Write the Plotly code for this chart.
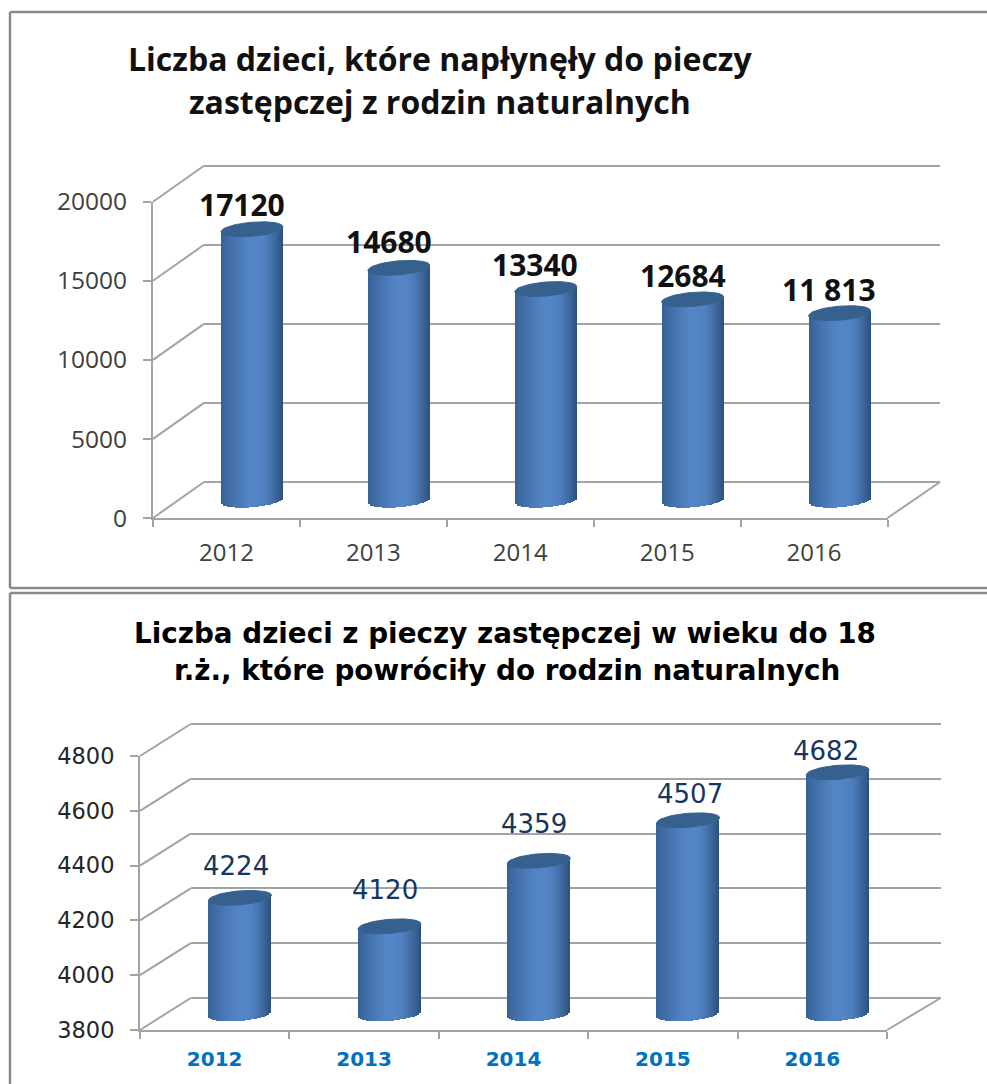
import math
import plotly.graph_objects as go

# ---------- data ----------
YEARS = ["2012", "2013", "2014", "2015", "2016"]
TOP_VALUES = [17120, 14680, 13340, 12684, 11813]
TOP_LABELS = ["17120", "14680", "13340", "12684", "11 813"]
TOP_TICKS = [0, 5000, 10000, 15000, 20000]
BOTTOM_VALUES = [4224, 4120, 4359, 4507, 4682]
BOTTOM_LABELS = ["4224", "4120", "4359", "4507", "4682"]
BOTTOM_TICKS = [3800, 4000, 4200, 4400, 4600, 4800]
TOP_TITLE = ["Liczba dzieci, które napłynęły do pieczy", "zastępczej z rodzin naturalnych"]
BOTTOM_TITLE = ["Liczba dzieci z pieczy zastępczej w wieku do 18",
                "r.ż., które powróciły do rodzin naturalnych"]

# ---------- layout constants (pixels) ----------
W, H = 987, 1084
GRID = "#a3a3a3"
FRAME = "#8a8a8a"


def px(x):
    return x / W


def py(y):
    return 1 - y / H


def mix(a, b, f):
    return tuple(a[i] + (b[i] - a[i]) * f for i in range(3))


def shade(t):
    """cylinder shading across the width, t in -1..1"""
    left, mid, right = (54, 96, 148), (83, 133, 198), (44, 80, 124)
    if t < -0.1:
        c = mix(left, mid, ((t + 1) / 0.9) ** 0.8)
    elif t < 0.25:
        c = mid
    else:
        c = mix(mid, right, ((t - 0.25) / 0.75) ** 1.5)
    return "rgb(%d,%d,%d)" % c


fig = go.Figure()
layout = dict(
    width=W, height=H, autosize=False, margin=dict(l=0, r=0, t=0, b=0),
    paper_bgcolor="white", plot_bgcolor="rgba(0,0,0,0)", showlegend=False,
    barmode="overlay", bargap=0,
)
shapes, annotations = [], []


def panel(first, values, labels, ticks, left, right, y_low, y_high, depth_x, depth_y,
          wall_right, bar_w, tick_font, year_font, year_standoff, label_font, label_shift, tick_standoff):
    n = len(values)
    ids = [str(first + k) if first + k > 1 else "" for k in range(3)]
    lo, hi = ticks[0], ticks[-1]
    ppu = (y_low - y_high) / (hi - lo)

    def ax(i, kind):
        return kind + ids[i]

    def key(i, kind):
        return kind + "axis" + ids[i]

    # front axes: labels, ticks and floor edge
    layout[key(0, "x")] = dict(
        domain=[px(left), px(right)], range=[-0.5, n - 0.5], anchor=ax(0, "y"), automargin=False,
        tickmode="array", tickvals=list(range(n)), ticktext=YEARS, ticks="",
        tickfont=year_font, showgrid=False, zeroline=False, showline=True,
        linecolor=GRID, linewidth=2, ticklabelstandoff=year_standoff,
        minor=dict(tickmode="array", tickvals=[i - 0.5 for i in range(n + 1)], ticks="outside",
                   ticklen=7, tickwidth=2, tickcolor=GRID, showgrid=False),
    )
    layout[key(0, "y")] = dict(
        domain=[py(y_low), py(y_high)], range=[lo, hi], anchor=ax(0, "x"), automargin=False,
        tickmode="array", tickvals=ticks, ticktext=[str(t) for t in ticks],
        ticks="outside", ticklen=8, tickwidth=2, tickcolor=GRID, tickfont=tick_font,
        showgrid=False, zeroline=False, showline=True, linecolor=GRID, linewidth=2,
        ticklabelstandoff=tick_standoff,
    )
    fig.add_trace(go.Scatter(x=[0], y=[lo], mode="markers", marker=dict(size=1, opacity=0),
                             xaxis=ax(0, "x"), yaxis=ax(0, "y"), hoverinfo="skip"))
    # back wall: native gridlines shifted in depth (small padding keeps end lines visible)
    wp = 3
    layout[key(1, "x")] = dict(
        domain=[px(left + depth_x), px(wall_right)], range=[0, 1], anchor=ax(1, "y"),
        visible=False, showgrid=False, zeroline=False, automargin=False,
    )
    layout[key(1, "y")] = dict(
        domain=[py(y_low - depth_y + wp), py(y_high - depth_y - wp)],
        range=[lo - wp / ppu, hi + wp / ppu], anchor=ax(1, "x"), automargin=False,
        tickmode="array", tickvals=ticks, showticklabels=False, ticks="",
        showgrid=True, gridcolor=GRID, gridwidth=2, zeroline=False, showline=False,
    )
    fig.add_trace(go.Scatter(x=[0], y=[lo], mode="markers", marker=dict(size=1, opacity=0),
                             xaxis=ax(1, "x"), yaxis=ax(1, "y"), hoverinfo="skip"))
    # depth lines
    for t in ticks:
        y = y_low - (t - lo) * ppu
        shapes.append(dict(type="line", xref="paper", yref="paper", x0=px(left), y0=py(y),
                           x1=px(left + depth_x), y1=py(y - depth_y),
                           line=dict(color=GRID, width=2)))
    shapes.append(dict(type="line", xref="paper", yref="paper", x0=px(right), y0=py(y_low),
                       x1=px(wall_right), y1=py(y_low - depth_y), line=dict(color=GRID, width=2)))

    # cylinders live in the mid-depth plane
    mx, my = depth_x / 2, depth_y / 2
    pad = 22
    bar_low = y_low - my + pad
    bar_high = y_high - my - pad
    layout[key(2, "x")] = dict(
        domain=[px(left + mx), px(right + mx)], range=[-0.5, n - 0.5], anchor=ax(2, "y"),
        visible=False, showgrid=False, zeroline=False, automargin=False,
    )
    layout[key(2, "y")] = dict(
        domain=[py(bar_low), py(bar_high)], range=[lo - pad / ppu, hi + pad / ppu], anchor=ax(2, "x"),
        visible=False, showgrid=False, zeroline=False, automargin=False,
    )
    unit_w = (right - left) / n
    half = bar_w / 2 / unit_w       # half width in x units
    strips = 31
    e = 7 / ppu                      # ellipse half height in data units
    tilt = 2.5 / ppu                 # ellipse tilt in data units
    xs, tops, bases, cols, widths = [], [], [], [], []
    for i, v in enumerate(values):
        for s in range(strips):
            t = -1 + (2 * s + 1) / strips
            xs.append(i + t * half)
            base = lo + tilt * t - e * math.sqrt(max(1 - t * t, 0))
            top = v + tilt * t
            bases.append(base)
            tops.append(top - base)
            cols.append(shade(t))
            widths.append(2 * half / strips)
    fig.add_trace(go.Bar(x=xs, y=tops, base=bases, width=widths,
                         marker=dict(color=cols, line=dict(width=0)),
                         xaxis=ax(2, "x"), yaxis=ax(2, "y"), hoverinfo="skip"))
    # top caps
    for i, v in enumerate(values):
        cx, cy = [], []
        for k in range(73):
            a = 2 * math.pi * k / 72
            cx.append(i + half * math.cos(a))
            cy.append(v + tilt * math.cos(a) + e * math.sin(a))
        fig.add_trace(go.Scatter(x=cx, y=cy, mode="lines", fill="toself", fillcolor="#36618f",
                                 line=dict(color="#36618f", width=1),
                                 xaxis=ax(2, "x"), yaxis=ax(2, "y"), hoverinfo="skip"))
    # value labels
    for i, (v, lab) in enumerate(zip(values, labels)):
        annotations.append(dict(x=i, y=v, xref=ax(2, "x"), yref=ax(2, "y"), text=lab, showarrow=False,
                                xshift=label_shift[i][0], yshift=label_shift[i][1], font=label_font,
                                xanchor="center", yanchor="middle"))


panel(1, TOP_VALUES, TOP_LABELS, TOP_TICKS, 153, 887.5, 518, 201.7, 51, 36, 940, 62,
      dict(family="Open Sans", size=24.5, color="#404040"),
      dict(family="Open Sans", size=24, color="#404040"), 12,
      dict(family="Open Sans", size=30, color="#111111", weight="bold"),
      [(-10, 25), (-10, 26), (-11, 25), (-10, 24), (-11, 24)], 11)
panel(4, BOTTOM_VALUES, BOTTOM_LABELS, BOTTOM_TICKS, 140, 887, 1030, 756, 50.7, 32, 940.7, 63,
      dict(family="DejaVu Sans", size=22.5, color="#262626"),
      dict(family="DejaVu Sans", size=20, color="#0070c0", weight="bold"), 10,
      dict(family="DejaVu Sans", size=26, color="#17365d"),
      [(-4, 32), (-4, 36), (-5, 37), (2, 26), (-12, 21)], 11)

# titles
for text, cx, cy, font in [
    (TOP_TITLE[0], 440, 58, dict(family="Open Sans", size=32, color="#111111", weight="bold")),
    (TOP_TITLE[1], 440, 102, dict(family="Open Sans", size=32, color="#111111", weight="bold")),
    (BOTTOM_TITLE[0], 505, 633, dict(family="DejaVu Sans", size=27.8, color="#000000", weight="bold")),
    (BOTTOM_TITLE[1], 507, 670, dict(family="DejaVu Sans", size=27.8, color="#000000", weight="bold")),
]:
    annotations.append(dict(x=px(cx), y=py(cy), xref="paper", yref="paper", text=text, showarrow=False,
                            xanchor="center", yanchor="middle", font=font))

# picture frames
for (x0, y0, x1, y1) in [(10, 12, 987, 12), (10, 12, 10, 588), (10, 588, 987, 588),
                         (10, 593, 987, 593), (10, 593, 10, 1084)]:
    shapes.append(dict(type="line", xref="paper", yref="paper", x0=px(x0), y0=py(y0), x1=px(x1), y1=py(y1),
                       line=dict(color=FRAME, width=2.5)))

layout["shapes"] = shapes
layout["annotations"] = annotations
fig.update_layout(**layout)
fig.write_html("out.html", config=dict(displayModeBar=False),
               post_script="document.body.style.margin='0';document.body.style.overflow='hidden';")
